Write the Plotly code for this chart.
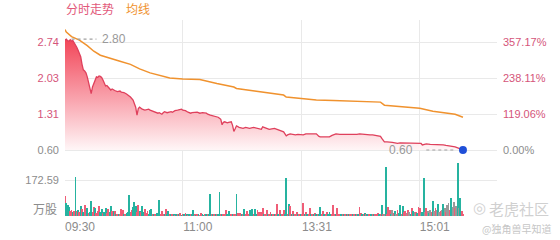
import plotly.graph_objects as go

# ---------------- data ----------------
PREV_CLOSE = 0.60
SESSION_END = 330
TIME_TICKS = [0, 90, 181, 271]
TIME_LABELS = ["09:30", "11:00", "13:31", "15:01"]

PRICE_TICKS = [0.60, 1.3144, 2.0287, 2.7430]
PRICE_TICK_LABELS = ["0.60", "1.31", "2.03", "2.74"]
PCT_TICK_LABELS = ["0.00%", "119.06%", "238.11%", "357.17%"]
VOL_TICK = 172.59
VOL_UNIT = "万股"

PRICE_IDX = [0, 1, 2, 3, 4, 5, 6, 7, 8, 9, 10, 11, 12, 13, 14, 15, 16, 17, 18, 19,
             20, 21, 22, 23, 24, 25, 26, 27, 28, 29, 30, 31, 32, 33, 34, 35, 36, 37, 38, 40,
             42, 43, 45, 47, 49, 50, 52, 53, 54, 55, 56, 57, 58, 59, 61, 62, 64, 65, 66, 68,
             69, 71, 72, 74, 75, 76, 78, 79, 81, 82, 84, 86, 89, 90, 92, 94, 96, 97, 99, 101,
             103, 105, 108, 109, 111, 113, 115, 117, 118, 119, 120, 121, 122, 124, 125, 127, 128, 129, 130, 131,
             133, 135, 136, 138, 140, 141, 144, 146, 148, 150, 151, 153, 154, 156, 158, 160, 162, 163, 165, 167,
             169, 170, 172, 174, 176, 178, 180, 182, 184, 186, 188, 190, 192, 194, 195, 198, 200, 202, 204, 205,
             207, 210, 213, 215, 218, 220, 223, 225, 228, 230, 233, 235, 238, 240, 241, 242, 243, 244, 246, 248,
             250, 252, 254, 256, 258, 261, 263, 265, 267, 269, 271, 272, 273, 275, 276, 279, 281, 284, 286, 289,
             291, 294, 296, 298, 300, 302, 304]
PRICE = [2.78, 2.80, 2.77, 2.76, 2.79, 2.76, 2.77, 2.73, 2.70, 2.64, 2.58, 2.52, 2.45, 2.30, 2.19, 2.17, 2.13, 2.05, 1.95, 1.80,
         1.72, 1.85, 1.91, 1.99, 2.05, 2.04, 2.07, 2.06, 2.04, 1.99, 1.93, 1.87, 1.88, 1.85, 1.80, 1.79, 1.81, 1.79, 1.78, 1.76,
         1.77, 1.75, 1.74, 1.71, 1.67, 1.65, 1.59, 1.52, 1.45, 1.29, 1.42, 1.45, 1.42, 1.41, 1.39, 1.40, 1.41, 1.39, 1.38, 1.37,
         1.35, 1.33, 1.34, 1.31, 1.34, 1.36, 1.34, 1.35, 1.36, 1.35, 1.38, 1.39, 1.41, 1.39, 1.38, 1.35, 1.33, 1.34, 1.34, 1.35,
         1.33, 1.34, 1.33, 1.31, 1.29, 1.28, 1.26, 1.25, 1.23, 1.21, 1.10, 1.15, 1.16, 1.14, 1.15, 1.16, 1.09, 0.97, 1.02, 1.08,
         1.05, 1.04, 1.03, 1.05, 1.04, 1.03, 1.05, 1.04, 1.03, 1.01, 1.06, 1.04, 1.03, 1.01, 1.02, 1.03, 1.01, 1.00, 0.98, 0.96,
         0.88, 0.90, 0.92, 0.91, 0.90, 0.91, 0.91, 0.90, 0.92, 0.92, 0.93, 0.93, 0.92, 0.87, 0.86, 0.86, 0.86, 0.86, 0.89, 0.90,
         0.92, 0.91, 0.91, 0.91, 0.90, 0.90, 0.91, 0.92, 0.91, 0.90, 0.90, 0.90, 0.89, 0.88, 0.87, 0.83, 0.79, 0.76, 0.76, 0.76,
         0.75, 0.74, 0.73, 0.74, 0.74, 0.74, 0.73, 0.73, 0.74, 0.74, 0.74, 0.73, 0.70, 0.71, 0.72, 0.71, 0.71, 0.70, 0.70, 0.70,
         0.69, 0.68, 0.67, 0.66, 0.64, 0.62, 0.60]

AVG_IDX = [0, 1, 5, 11, 17, 22, 27, 34, 42, 50, 57, 65, 73, 80, 90, 103, 116, 129, 131, 141,
           154, 167, 169, 180, 192, 205, 218, 241, 244, 256, 271, 281, 292, 298, 304]
AVG = [2.99, 2.94, 2.85, 2.78, 2.67, 2.56, 2.48, 2.42, 2.36, 2.30, 2.21, 2.13, 2.07, 2.03, 2.01, 2.00, 1.92, 1.85, 1.82, 1.78,
       1.74, 1.69, 1.65, 1.62, 1.59, 1.58, 1.57, 1.55, 1.49, 1.46, 1.43, 1.37, 1.34, 1.31, 1.25]

VOLUME = [96, 61, 55, 45, 25, 30, 20, 22, 185, 25,
          28, 18, 50, 35, 20, 55, 25, 38, 15, 20, 73,
          20, 43, 38, 15, 25, 48, 20, 34, 15, 20, 38,
          15, 34, 18, 48, 25, 22, 25, 12, 10, 8, 12, 32, 28, 10,
          12, 15, 18, 100, 20, 29, 45, 66, 50, 20, 53, 22, 18, 48, 20,
          32, 15, 25, 12, 30, 32, 10, 8, 12, 15, 12, 77, 10, 25, 12, 8, 32, 12, 22, 8,
          6, 5, 8, 4, 5, 6, 5, 13, 4, 5, 6, 13, 5, 4, 6, 5, 8, 29, 5, 4, 6, 5, 4, 13, 5, 4, 6, 5, 8, 6,
          105, 6, 5, 10, 6, 5, 8, 115, 6, 5, 10, 6, 29, 8, 24, 6, 5, 8, 6, 5,
          105, 14, 12, 14, 6, 8, 34, 8, 24, 10, 29, 10, 34, 8, 34, 10, 29, 19, 12, 19,
          37, 8, 10, 29, 6, 12, 19, 6, 8, 5, 10, 56, 6, 29, 8, 10, 29, 12, 182, 10,
          57, 48, 8, 24, 6, 10, 19, 6, 8, 5, 10, 62, 6, 19, 5, 8, 38, 6, 10, 5,
          14, 6, 8, 10, 45, 8, 24, 6, 8, 19, 6, 19, 8, 5, 52, 6, 10, 38, 5, 8,
          8, 10, 6, 12, 8, 5, 10, 12, 8, 6, 10, 5, 12, 8, 45, 14, 8, 12, 14, 10,
          6, 8, 10, 6, 5, 8, 6, 10, 14, 6, 8, 53, 10, 8, 236, 12, 45, 29, 12, 29,
          14, 24, 12, 29, 14, 53, 12, 50, 20, 24, 14, 29, 20, 10, 36, 24, 18, 20, 14, 45,
          36, 14, 20, 183, 18, 36, 24, 14, 29, 20, 72, 24, 36, 29, 56, 20, 24, 29, 56, 36,
          20, 53, 61, 29, 88, 45, 69, 36, 48, 253, 40, 85, 24, 10]
# r = up (red), g = down (green), n = unchanged (gray)
VOL_DIR = list("rgggrrgrgr"
               "grgrgrrgrgg"
               "rrgrrrggrgg"
               "rrggrgrgrgrrrg"
               "rggg" "rrgggrrgrgg"
               "rrrgggrgrgggrrrgrggr"
               "grgrgrgrgrgrgrgrggrgrgrrggrgrg"
               "grgrgrggrgrrrgggrgrr"
               "grrrgrgrrrgggrggrrrr"
               "rgrrgrrgrgrrgrgrrggr"
               "grgrgrrgrgrrgrgrrgrg"
               "rgrggrrgrrgggrrrgrrr"
               "grgrgrgrrgrgrgrrgrgr"
               "grrgrgrrrgrgrngrrrgn"
               "rgnrggrgrrnrngrgnrgr"
               "rnggnrngnrgnrngnrngn"
               "rnnrgnnrngngrr")

# ---------------- styling ----------------
W, H = 560, 240
PLOT_L, PLOT_R = 65, 497
PRICE_TOP, PRICE_BOT = 20, 160
VOL_TOP, VOL_BOT = 160, 216
Y_MIN_PX, Y_MAX_PX = 150, 42  # pixel rows of lowest and highest price tick

RED = "#df405c"
ORANGE = "#f0922e"
TEAL = "#26b3a0"
PINK = "#ef5d77"
GRAYBAR = "#999999"
LABEL_RED = "#d5557a"
LABEL_GRAY = "#8c8c8c"
GRID = "#e9e9e9"
FONT = "Liberation Sans, Arial, Noto Sans CJK SC, sans-serif"


def py(px):
    return 1 - px / H


def px_x(px):
    return px / W


# price axis range so that ticks land on their pixel rows
ppx = (PRICE_TICKS[-1] - PRICE_TICKS[0]) / (Y_MIN_PX - Y_MAX_PX)
price_range = [PRICE_TICKS[0] - (PRICE_BOT - Y_MIN_PX) * ppx,
               PRICE_TICKS[0] + (Y_MIN_PX - PRICE_TOP) * ppx]
vol_range = [0, VOL_TICK * (VOL_BOT - VOL_TOP) / (VOL_BOT - 180)]

dir_color = {"r": PINK, "g": TEAL, "n": GRAYBAR}
bar_colors = [dir_color[d] for d in VOL_DIR[:len(VOLUME)]]
while len(bar_colors) < len(VOLUME):
    bar_colors.append(GRAYBAR)

fig = go.Figure()

# baseline for area fill
fig.add_trace(go.Scatter(x=[PRICE_IDX[0], PRICE_IDX[-1]], y=[PREV_CLOSE, PREV_CLOSE],
                         mode="lines", line=dict(width=0, color="rgba(0,0,0,0)"),
                         hoverinfo="skip", showlegend=False, xaxis="x", yaxis="y"))
fig.add_trace(go.Scatter(x=PRICE_IDX, y=PRICE, mode="lines",
                         line=dict(color=RED, width=1.3),
                         fill="tonexty",
                         fillgradient=dict(type="vertical", start=PREV_CLOSE, stop=max(PRICE),
                                           colorscale=[[0, "rgba(255,246,247,1)"],
                                                       [0.45, "rgba(249,165,175,1)"],
                                                       [1, "rgba(242,70,88,1)"]]),
                         showlegend=False, xaxis="x", yaxis="y"))
fig.add_trace(go.Scatter(x=AVG_IDX, y=AVG, mode="lines",
                         line=dict(color=ORANGE, width=1.5),
                         showlegend=False, xaxis="x", yaxis="y"))
# invisible companion for right percent axis
fig.add_trace(go.Scatter(x=PRICE_IDX, y=PRICE, mode="lines", line=dict(width=0),
                         opacity=0, hoverinfo="skip", showlegend=False, xaxis="x", yaxis="y3"))

# max marker
imax = PRICE.index(max(PRICE))
fig.add_trace(go.Scatter(x=[PRICE_IDX[imax] + 4, PRICE_IDX[imax] + 23], y=[max(PRICE)] * 2,
                         mode="lines", line=dict(color="#a0a0a0", width=1.2, dash="3px,3px"),
                         hoverinfo="skip", showlegend=False, xaxis="x", yaxis="y"))
# min / last marker
fig.add_trace(go.Scatter(x=[PRICE_IDX[-1] - 28, PRICE_IDX[-1] - 7], y=[min(PRICE)] * 2,
                         mode="lines", line=dict(color="#a0a0a0", width=1.2, dash="3px,3px"),
                         hoverinfo="skip", showlegend=False, xaxis="x", yaxis="y"))
fig.add_trace(go.Scatter(x=[PRICE_IDX[-1]], y=[PRICE[-1]], mode="markers",
                         marker=dict(color="#1f4fd8", size=8),
                         showlegend=False, xaxis="x", yaxis="y"))

fig.add_trace(go.Bar(x=list(range(len(VOLUME))), y=VOLUME, width=0.65,
                     marker=dict(color=bar_colors, line=dict(width=0)),
                     showlegend=False, xaxis="x2", yaxis="y2"))

grid_ticks = TIME_TICKS + [SESSION_END]
xdom = [px_x(PLOT_L), px_x(PLOT_R)]

price_ticktext = [f'<span style="color:{LABEL_GRAY if i == 0 else LABEL_RED}">{t}</span>'
                  for i, t in enumerate(PRICE_TICK_LABELS)]
pct_ticktext = [f'<span style="color:{LABEL_GRAY if i == 0 else LABEL_RED}">{t}</span>'
                for i, t in enumerate(PCT_TICK_LABELS)]

fig.update_layout(
    width=W, height=H, margin=dict(l=0, r=0, t=0, b=0),
    paper_bgcolor="white", plot_bgcolor="white",
    font=dict(family=FONT, size=11, color=LABEL_GRAY),
    bargap=0,
    xaxis=dict(domain=xdom, range=[0, SESSION_END], anchor="y",
               tickmode="array", tickvals=grid_ticks, showticklabels=False,
               showgrid=True, gridcolor=GRID, gridwidth=1, zeroline=False, ticks=""),
    xaxis2=dict(domain=xdom, range=[0, SESSION_END], anchor="y2",
                tickmode="array", tickvals=grid_ticks, ticktext=TIME_LABELS + [""],
                showgrid=True, gridcolor=GRID, gridwidth=1, zeroline=False, ticks="",
                ticklabelshift=15, ticklabelstandoff=2,
                tickfont=dict(size=12, color=LABEL_GRAY)),
    yaxis=dict(domain=[py(PRICE_BOT), py(PRICE_TOP)], range=price_range, anchor="x",
               tickmode="array", tickvals=PRICE_TICKS, ticktext=price_ticktext,
               showgrid=True, gridcolor=GRID, zeroline=False, ticks="",
               ticklabelstandoff=5, tickfont=dict(size=11)),
    yaxis3=dict(overlaying="y", side="right", anchor="x", range=price_range,
                tickmode="array", tickvals=PRICE_TICKS, ticktext=pct_ticktext,
                showgrid=False, zeroline=False, ticks="",
                ticklabelstandoff=5, tickfont=dict(size=11)),
    yaxis2=dict(domain=[py(VOL_BOT), py(VOL_TOP)], range=vol_range, anchor="x2",
                tickmode="array", tickvals=[VOL_TICK], ticktext=[f"{VOL_TICK:.2f}"],
                showgrid=True, gridcolor=GRID, zeroline=False, ticks="",
                ticklabelstandoff=5, tickfont=dict(size=11, color=LABEL_GRAY)),
)

ann = [
    dict(text="分时走势", x=px_x(64), y=py(10), xref="paper", yref="paper",
         xanchor="left", yanchor="middle", showarrow=False,
         font=dict(size=12, color="#e2587a", family=FONT)),
    dict(text="均线", x=px_x(124), y=py(10), xref="paper", yref="paper",
         xanchor="left", yanchor="middle", showarrow=False,
         font=dict(size=12, color=ORANGE, family=FONT)),
    dict(text=f"{max(PRICE):.2f}", x=PRICE_IDX[imax] + 25.5, y=max(PRICE), xref="x", yref="y",
         xanchor="left", yanchor="middle", showarrow=False,
         font=dict(size=12, color="#999999", family=FONT)),
    dict(text=f"{min(PRICE):.2f}", x=PRICE_IDX[-1] - 36.5, y=min(PRICE), xref="x", yref="y",
         xanchor="right", yanchor="middle", showarrow=False,
         font=dict(size=12, color="#999999", family=FONT)),
    dict(text=VOL_UNIT, x=px_x(59), y=py(210), xref="paper", yref="paper",
         xanchor="right", yanchor="middle", showarrow=False,
         font=dict(size=12, color=LABEL_GRAY, family=FONT)),
    dict(text="◎", x=px_x(479), y=py(208), xref="paper", yref="paper",
         xanchor="center", yanchor="middle", showarrow=False,
         font=dict(size=15, color="#d2d2d2", family="DejaVu Sans")),
    dict(text="老虎社区", x=px_x(519), y=py(208), xref="paper", yref="paper",
         xanchor="center", yanchor="middle", showarrow=False,
         font=dict(size=15, color="#d0d0d0", family="Noto Sans CJK SC")),
    dict(text="@独角兽早知道", x=px_x(516), y=py(228), xref="paper", yref="paper",
         xanchor="center", yanchor="middle", showarrow=False,
         font=dict(size=10, color="#c6c6c6", family="Noto Sans CJK SC")),
]
fig.update_layout(annotations=ann)

fig.write_html("out.html")
